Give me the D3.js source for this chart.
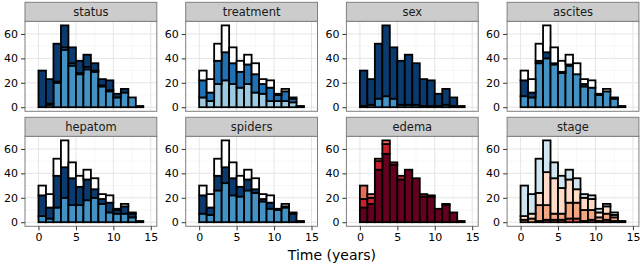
<!DOCTYPE html>
<html>
<head>
<meta charset="utf-8">
<script src="https://cdn.jsdelivr.net/npm/d3@7"></script>
<style>
  body { margin: 0; background: #fff; }
  text { font-family: "DejaVu Sans", sans-serif; }
</style>
</head>
<body>
<div id="chart"></div>
<script>
// histogram bins (start of each 1-year bin)
const binStarts = [-1, 0, 1, 2, 3, 4, 5, 6, 7, 8, 9, 10, 11, 12, 13, 14];
const xTicks = [0, 5, 10, 15];
const xMinor = [2.5, 7.5, 12.5];
const yTicks = [0, 20, 40, 60];
const yMinor = [10, 30, 50, 70];
const facetNames = ["status", "treatment", "sex", "ascites", "hepatom", "spiders", "edema", "stage"];

// counts per bin, series listed bottom to top
const statusCensored   = [0, 0, 2, 20, 47, 34, 27, 31, 29, 17, 13, 8, 12, 8, 0, 0];
const statusTransplant = [0, 0, 1, 1, 2, 2, 1, 2, 1, 1, 1, 0, 0, 0, 0, 0];
const statusDead       = [0, 30, 20, 31, 18, 13, 10, 10, 6, 5, 8, 3, 3, 0, 1, 0];

const trtOne  = [0, 8, 5, 19, 22, 19, 16, 19, 12, 11, 5, 5, 5, 4, 0, 0];
const trtTwo  = [0, 14, 7, 19, 23, 17, 13, 16, 15, 8, 11, 5, 8, 3, 1, 0];
const notInTrial = [0, 8, 11, 14, 22, 13, 9, 8, 9, 4, 6, 1, 2, 1, 0, 0];

const sexM = [0, 1, 2, 7, 9, 7, 2, 2, 2, 1, 1, 1, 2, 1, 0, 0];
const sexF = [0, 29, 21, 45, 58, 42, 36, 41, 34, 22, 21, 10, 13, 7, 1, 0];

const ascitesNo  = [0, 9, 8, 36, 40, 35, 28, 34, 27, 17, 16, 10, 13, 7, 0, 0];
const ascitesYes = [0, 13, 4, 2, 5, 1, 1, 1, 0, 2, 0, 0, 0, 0, 1, 0];

const hepatomNo  = [0, 5, 3, 12, 20, 14, 14, 18, 20, 15, 8, 7, 7, 4, 0, 0];
const hepatomYes = [0, 17, 9, 26, 25, 22, 15, 17, 7, 4, 8, 3, 6, 3, 1, 0];

const spidersNo  = [0, 7, 6, 26, 32, 22, 21, 26, 24, 17, 11, 10, 12, 0, 0, 0];
const spidersYes = [0, 15, 6, 12, 13, 14, 8, 9, 3, 2, 5, 0, 1, 7, 1, 0];

const edema0   = [0, 12, 15, 43, 56, 47, 35, 43, 36, 21, 21, 11, 14, 8, 1, 0];
const edemaHalf = [0, 7, 5, 7, 8, 2, 3, 0, 0, 2, 1, 0, 1, 0, 0, 0];
const edema1   = [0, 11, 3, 2, 3, 0, 0, 0, 0, 0, 0, 0, 0, 0, 0, 0];

const stage1 = [0, 0, 0, 1, 2, 2, 2, 3, 3, 1, 2, 1, 2, 1, 0, 0];
const stage2 = [0, 2, 3, 13, 12, 5, 5, 13, 13, 9, 8, 3, 5, 3, 0, 0];
const stage3 = [0, 3, 4, 10, 27, 29, 21, 19, 11, 10, 9, 4, 6, 2, 1, 0];
const stage4 = [0, 25, 16, 28, 26, 13, 10, 8, 9, 3, 3, 3, 2, 2, 0, 0];

const facetSeries = {
  status: [statusCensored, statusTransplant, statusDead],
  treatment: [trtOne, trtTwo, notInTrial],
  sex: [sexM, sexF],
  ascites: [ascitesNo, ascitesYes, notInTrial],
  hepatom: [hepatomNo, hepatomYes, notInTrial],
  spiders: [spidersNo, spidersYes, notInTrial],
  edema: [edema0, edemaHalf, edema1],
  stage: [stage1, stage2, stage3, stage4]
};

const navy = "#0b3a6e", mid = "#4292c6";
const facetFills = {
  status: [mid, "#2171b5", navy],
  treatment: ["#9ecae1", "#2171b5", "#ffffff"],
  sex: [mid, navy],
  ascites: [mid, navy, "#ffffff"],
  hepatom: [mid, navy, "#ffffff"],
  spiders: [mid, navy, "#ffffff"],
  edema: ["#67001f", "#c8202f", "#ea6a55"],
  stage: ["#d6604d", "#f4a582", "#fddbc7", "#d1e5f0"]
};

const W = 640, H = 266;
const panelW = 131.8, panelH = 90, stripH = 19;
const colStep = 160.7, firstLeft = 25;
const rowTops = [21.3, 136.3];

const svg = d3.select("#chart").append("svg")
  .attr("width", W).attr("height", H);

const x = d3.scaleLinear().domain([-1.8, 15.8]).range([0, panelW]);
const y = d3.scaleLinear().domain([-3.35, 70.35]).range([panelH, 0]);

facetNames.forEach((name, i) => {
  const col = i % 4, row = Math.floor(i / 4);
  const g = svg.append("g")
    .attr("transform", `translate(${firstLeft + col * colStep},${rowTops[row]})`);

  // panel background + grid
  g.append("rect").attr("width", panelW).attr("height", panelH).attr("fill", "#fff");
  g.selectAll(".xminor").data(xMinor).join("line")
    .attr("x1", d => x(d)).attr("x2", d => x(d)).attr("y1", 0).attr("y2", panelH)
    .attr("stroke", "#f7f7f7").attr("stroke-width", 1);
  g.selectAll(".yminor").data(yMinor).join("line")
    .attr("y1", d => y(d)).attr("y2", d => y(d)).attr("x1", 0).attr("x2", panelW)
    .attr("stroke", "#f7f7f7").attr("stroke-width", 1);
  g.selectAll(".xmajor").data(xTicks).join("line")
    .attr("x1", d => x(d)).attr("x2", d => x(d)).attr("y1", 0).attr("y2", panelH)
    .attr("stroke", "#e5e5e5").attr("stroke-width", 1);
  g.selectAll(".ymajor").data(yTicks).join("line")
    .attr("y1", d => y(d)).attr("y2", d => y(d)).attr("x1", 0).attr("x2", panelW)
    .attr("stroke", "#e5e5e5").attr("stroke-width", 1);

  // stacked bars
  const series = facetSeries[name];
  const keys = series.map((_, k) => "s" + k);
  const rows = binStarts.map((b, j) => {
    const r = { bin: b };
    series.forEach((s, k) => r["s" + k] = s[j]);
    return r;
  });
  const stacked = d3.stack().keys(keys)(rows);
  const fills = facetFills[name];

  stacked.forEach((layer, k) => {
    g.append("g").selectAll("rect").data(layer).join("rect")
      .attr("x", d => x(d.data.bin))
      .attr("width", d => x(d.data.bin + 1) - x(d.data.bin))
      .attr("y", d => y(d[1]))
      .attr("height", d => y(d[0]) - y(d[1]))
      .attr("fill", fills[k])
      .attr("stroke", "#000")
      .attr("stroke-width", 1.8);
  });

  // panel border
  g.append("rect").attr("width", panelW).attr("height", panelH)
    .attr("fill", "none").attr("stroke", "#7f7f7f").attr("stroke-width", 1);

  // strip
  g.append("rect").attr("y", -stripH).attr("width", panelW).attr("height", stripH)
    .attr("fill", "#cccccc").attr("stroke", "#7f7f7f").attr("stroke-width", 1);
  g.append("text").attr("x", panelW / 2).attr("y", -stripH / 2)
    .attr("text-anchor", "middle").attr("dominant-baseline", "central")
    .style("font-size", "11.5px").attr("fill", "#1a1a1a").text(name);

  // y axis
  const ya = g.append("g").call(d3.axisLeft(y).tickValues(yTicks).tickSize(4).tickPadding(3));
  ya.select(".domain").remove();
  ya.selectAll("line").attr("stroke", "#333");
  ya.selectAll("text").style("font-size", "11px").attr("fill", "#000")
    .style("font-family", "DejaVu Sans, sans-serif");

  // x axis on bottom row
  if (row === 1) {
    const xa = g.append("g").attr("transform", `translate(0,${panelH})`)
      .call(d3.axisBottom(x).tickValues(xTicks).tickSize(4).tickPadding(3));
    xa.select(".domain").remove();
    xa.selectAll("line").attr("stroke", "#333");
    xa.selectAll("text").style("font-size", "11px").attr("fill", "#000")
      .style("font-family", "DejaVu Sans, sans-serif");
  }
});

svg.append("text")
  .attr("x", firstLeft + (3 * colStep + panelW) / 2)
  .attr("y", 260)
  .attr("text-anchor", "middle")
  .style("font-size", "14px")
  .attr("fill", "#000")
  .text("Time (years)");
</script>
</body>
</html>
